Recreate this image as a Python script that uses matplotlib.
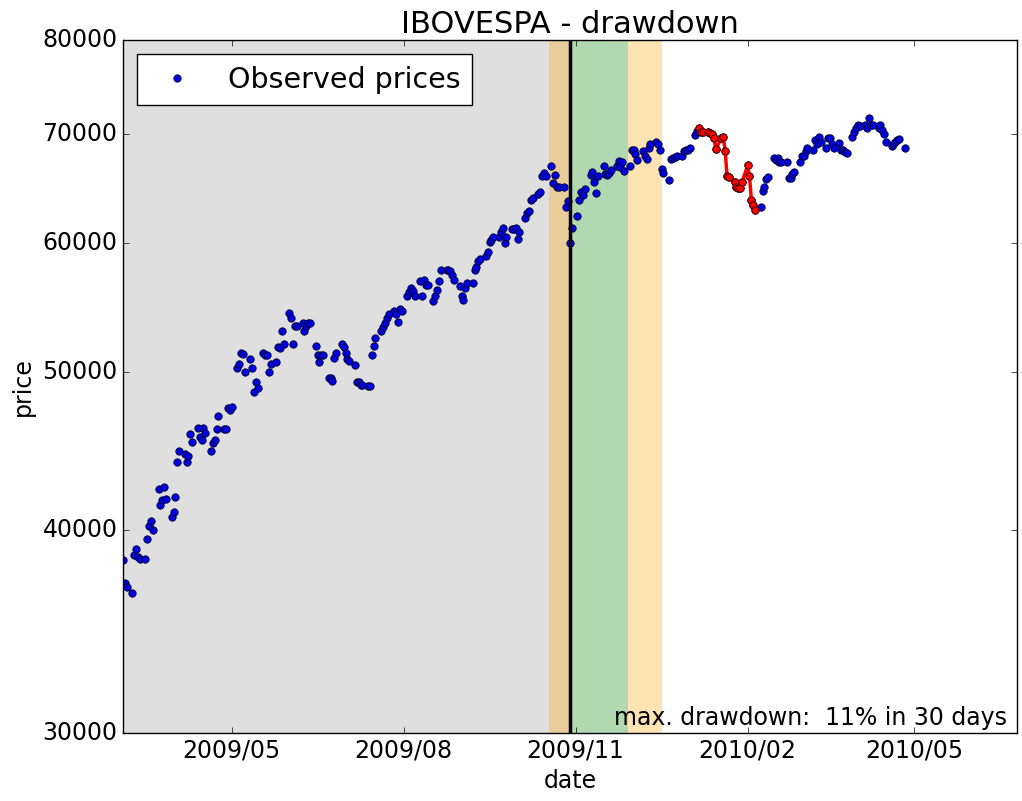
import pandas as pd
import matplotlib
matplotlib.use('Agg')
import matplotlib.pyplot as plt
import matplotlib.dates as mdates
from matplotlib.ticker import FixedLocator, FuncFormatter, NullLocator

# IBOVESPA closing prices, business days from 2009-03-04
prices = [
    38300, 37100, 36900, 36600, 38600,
    38900, 38500, 38400, 38400, 39500,
    40200, 40500, 40000, 42400, 41400,
    41700, 42500, 41800, 40700, 41000,
    41900, 44000, 44700, 44500, 44000,
    44400, 45800, 45300, 46200, 45600,
    45400, 46200, 45900, 44700, 45200,
    45400, 46100, 47000, 46100, 46100,
    47500, 47400, 47600, 50300, 50600,
    51400, 51300, 50000, 50900, 50300,
    48600, 49300, 48900, 51400, 51200,
    51200, 50000, 50600, 50700, 51800,
    51700, 53000, 52000, 54400, 54000,
    52000, 53400, 53400, 53600, 53000,
    53400, 53600, 53600, 51900, 51200,
    50700, 51200, 51200, 49600, 49600,
    49400, 51000, 51400, 52000, 51800,
    51400, 50900, 50800, 50500, 49300,
    49300, 49100, 49100, 49000, 49000,
    51200, 51900, 52500, 53000, 53300,
    53600, 54000, 54300, 54500, 54300,
    53700, 54700, 54500, 55700, 56000,
    56300, 56100, 55700, 56900, 55700,
    57000, 56600, 56600, 55300, 55700,
    56200, 56900, 57800, 57800, 57800,
    57700, 57400, 57000, 56500, 55700,
    55400, 56300, 56700, 56700, 57800,
    58000, 58500, 58700, 58900, 59300,
    60100, 60300, 60500, 60500, 61000,
    61300, 60000, 60500, 61200, 61200,
    61300, 60400, 61000, 62200, 62600,
    62800, 63800, 64000, 64300, 64500,
    66000, 66300, 66000, 66900, 65300,
    66100, 65000, 65000, 65000, 63200,
    63700, 60000, 61300, 62400, 63800,
    64500, 64200, 64800, 66100, 66400,
    65400, 64400, 66000, 66900, 66200,
    66100, 66300, 66600, 66900, 67400,
    66800, 67300, 66500, 66900, 68500,
    68500, 68100, 67500, 68400, 67900,
    67600, 68700, 69100, 69250, 69100,
    68500, 66700, 66300, 65600, 67600,
    67700, 67800, 67900, 67900, 68400,
    68500, 68500, 68700, 69900, 70300,
    70630, 70240, 70240, 70240, 70100,
    70000, 69600, 68600, 69640, 69740,
    68400, 66000, 65900, 65400, 65000,
    64900, 64900, 65400, 67000, 66000,
    63800, 63300, 62890, 63200, 64600,
    65000, 65700, 65900, 67700, 67500,
    67700, 67300, 67300, 67300, 65800,
    65800, 66200, 66400, 67300, 67900,
    67900, 68400, 68700, 68500, 69440,
    69100, 69740, 69250, 68700, 69640,
    69640, 69060, 68700, 69200, 68500,
    68470, 68300, 68200, 69740, 70240,
    70600, 70940, 70800, 70940, 70600,
    71640, 70940, 70940, 70630, 70940,
    70400, 70000, 69250, 68900, 69100,
    69250, 69440, 69550, 68660,
]
dates = pd.bdate_range('2009-03-04', periods=len(prices))

history_start = '2009-03-01'
cut_date = '2009-10-29'
pre_band = ('2009-10-18', '2009-10-29')
test_band = ('2009-10-29', '2009-11-29')
post_band = ('2009-11-29', '2009-12-17')
ytick_vals = [30000, 40000, 50000, 60000, 70000, 80000]

s = pd.Series(prices, index=dates)
dd = s / s.cummax() - 1
trough = dd.idxmin()
peak = s[:trough].idxmax()
dd_pct = round(-dd.min() * 100)
dd_days = (trough - peak).days

plt.style.use('classic')
fig = plt.figure(figsize=(10.22, 8.01), dpi=100, facecolor='white')
ax = fig.add_axes([0.1204, 0.0849, 0.8746, 0.8651])

ax.axvspan(pd.Timestamp(history_start), pd.Timestamp(cut_date), color='gray', alpha=0.25, lw=0)
ax.axvspan(pd.Timestamp(pre_band[0]), pd.Timestamp(pre_band[1]), color='orange', alpha=0.3, lw=0)
ax.axvspan(pd.Timestamp(test_band[0]), pd.Timestamp(test_band[1]), color='green', alpha=0.3, lw=0)
ax.axvspan(pd.Timestamp(post_band[0]), pd.Timestamp(post_band[1]), color='orange', alpha=0.3, lw=0)

ax.plot(dates, prices, 'o', color='#0000dd', mec='#000033', mew=0.6, ms=5.3, label='Observed prices')
seg = s[peak:trough]
ax.plot(seg.index, seg.values, '-o', color='r', lw=2.5, mec='#330000', mew=0.6, ms=5.3)
ax.axvline(pd.Timestamp(cut_date), color='k', lw=2.5)

ax.set_yscale('log')
ax.set_ylim(30000, 80000)
ax.yaxis.set_major_locator(FixedLocator(ytick_vals))
ax.yaxis.set_major_formatter(FuncFormatter(lambda v, p: '%d' % v))
ax.yaxis.set_minor_locator(NullLocator())

ax.xaxis.set_major_locator(mdates.MonthLocator(bymonth=[2, 5, 8, 11]))
ax.xaxis.set_major_formatter(mdates.DateFormatter('%Y/%m'))
ax.set_xlim(pd.Timestamp('2009-03-04'), pd.Timestamp('2010-06-25'))

ax.tick_params(labelsize=17)
ax.set_xlabel('date', fontsize=17)
ax.set_ylabel('price', fontsize=17)
ax.set_title('IBOVESPA - drawdown', fontsize=22)

ax.text(0.989, 0.012, 'max. drawdown:  %d%% in %d days' % (dd_pct, dd_days),
        transform=ax.transAxes, ha='right', va='baseline', fontsize=17)
ax.legend(loc='upper left', numpoints=1, fontsize=20.5)

fig.savefig('out.png', dpi=100, facecolor='white')
